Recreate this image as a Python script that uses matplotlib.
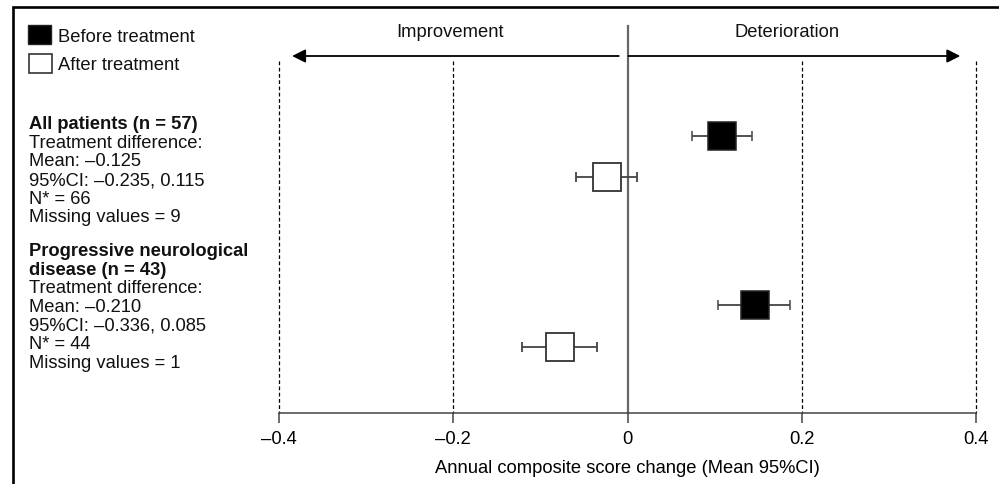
import matplotlib.pyplot as plt
from matplotlib.patches import Rectangle

plt.rcParams['font.family'] = ['Liberation Sans', 'DejaVu Sans']

# Valeurs (moyenne et IC 95%)
before_mean = [0.108, 0.146]
before_low = [0.074, 0.104]
before_high = [0.143, 0.186]
after_mean = [-0.023, -0.078]
after_low = [-0.059, -0.121]
after_high = [0.011, -0.035]

tick_values = [-0.4, -0.2, 0, 0.2, 0.4]
tick_labels = ['–0.4', '–0.2', '0', '0.2', '0.4']
grid_values = [-0.4, -0.2, 0.2, 0.4]

legend_labels = ['Before treatment', 'After treatment']
group1_lines = ['All patients (n = 57)', 'Treatment difference:', 'Mean: –0.125',
                '95%CI: –0.235, 0.115', 'N* = 66', 'Missing values = 9']
group2_lines = ['Progressive neurological', 'disease (n = 43)', 'Treatment difference:',
                'Mean: –0.210', '95%CI: –0.336, 0.085', 'N* = 44', 'Missing values = 1']
group2_bold = 2

# positions verticales (pixels)
before_y = [137.5, 306]
after_y = [178.5, 348]

FS = 13.2
W, H = 999, 485

fig = plt.figure(figsize=(W / 100, H / 100), dpi=100)

# axe de fond en pixels : cadre + texte de gauche
bg = fig.add_axes([0, 0, 1, 1])
bg.set_xlim(0, W)
bg.set_ylim(H, 0)
bg.axis('off')
bg.plot([13, 13, W], [H, 8, 8], color='black', lw=1.9, solid_joinstyle='miter')

# legende
bg.add_patch(Rectangle((28, 26), 23, 19, facecolor='black', edgecolor='#222', lw=1))
bg.add_patch(Rectangle((29, 55), 23, 19, facecolor='white', edgecolor='#333', lw=1.2))
bg.text(58, 41.5, legend_labels[0], fontsize=FS, va='baseline', color='#111')
bg.text(58, 70.5, legend_labels[1], fontsize=FS, va='baseline', color='#111')

step = 18.7
for i, line in enumerate(group1_lines):
    bg.text(29, 123.5 + 5.5 + i * step, line, fontsize=FS, va='baseline', color='#111',
            fontweight='bold' if i == 0 else 'normal')
for i, line in enumerate(group2_lines):
    bg.text(29, 250.5 + 5.5 + i * step, line, fontsize=FS, va='baseline', color='#111',
            fontweight='bold' if i < group2_bold else 'normal')

# axe principal
ax = fig.add_axes([279 / W, (H - 414) / H, 697 / W, (414 - 27) / H])
ax.patch.set_alpha(0)
ax.set_xlim(-0.4, 0.4)
ax.set_ylim(414, 27)
for s in ['top', 'left', 'right']:
    ax.spines[s].set_visible(False)
ax.spines['bottom'].set_color('#444')
ax.spines['bottom'].set_linewidth(1.1)
ax.set_yticks([])
ax.set_xticks(tick_values, tick_labels)
ax.tick_params(axis='x', length=7.2, width=1.1, color='#444', pad=5, labelsize=FS)
ax.set_xlabel('Annual composite score change (Mean 95%CI)', fontsize=FS, labelpad=8.5)

# lignes pointillees et ligne zero
for v in grid_values:
    ax.plot([v, v], [62, 414], color='black', lw=0.9, ls=(0, (3, 2)), clip_on=False)
ax.plot([0, 0], [27, 414], color='#666', lw=1.6, clip_on=False)

# fleches en haut
arrow = dict(arrowstyle='-|>', color='black', lw=1.3, mutation_scale=20, shrinkA=0, shrinkB=0)
ax.annotate('', xy=(-0.385, 57), xytext=(-0.010, 57), arrowprops=arrow)
ax.annotate('', xy=(0.382, 57), xytext=(0.001, 57), arrowprops=arrow)
ax.text(-0.204, 33, 'Improvement', ha='center', va='center', fontsize=FS, color='#111')
ax.text(0.183, 33, 'Deterioration', ha='center', va='center', fontsize=FS, color='#111')

# moyennes et IC
b_err = [[m - l for m, l in zip(before_mean, before_low)],
         [h - m for m, h in zip(before_mean, before_high)]]
a_err = [[m - l for m, l in zip(after_mean, after_low)],
         [h - m for m, h in zip(after_mean, after_high)]]
ax.errorbar(before_mean, before_y, xerr=b_err, fmt='s', ms=20.8, mfc='black', mec='#222',
            mew=1.1, ecolor='#444', elinewidth=1.3, capsize=3.6, capthick=1.5, zorder=3)
ax.errorbar(after_mean, after_y, xerr=a_err, fmt='s', ms=20.8, mfc='white', mec='#333',
            mew=1.3, ecolor='#444', elinewidth=1.3, capsize=3.6, capthick=1.5, zorder=3)

fig.savefig('out.png', dpi=100)
